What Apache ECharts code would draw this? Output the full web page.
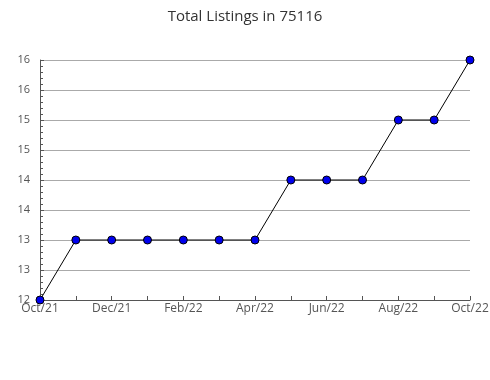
<!DOCTYPE html>
<html><head><meta charset="utf-8">
<script src="https://cdn.jsdelivr.net/npm/echarts@6/dist/echarts.min.js"></script>
<style>html,body{margin:0;padding:0;background:#fff}#c{width:490px;height:380px}</style>
</head><body><div id="c"></div>
<script>
const categories = ['Oct/21','Nov/21','Dec/21','Jan/22','Feb/22','Mar/22','Apr/22','May/22','Jun/22','Jul/22','Aug/22','Sep/22','Oct/22'];
const listings = [12,13,13,13,13,13,13,14,14,14,15,15,16];
const yTickLabels = ['12','13','13','14','14','15','15','16','16'];
const titleText = 'Total Listings in 75116';

const chart = echarts.init(document.getElementById('c'));
chart.setOption({
  animation: false,
  title: { text: titleText, left: 'center', top: 4,
    textStyle: { fontFamily: 'Open Sans', fontWeight: 'normal', fontSize: 15, color: '#333' } },
  grid: { left: 40, right: 20, top: 60, bottom: 80, containLabel: false, outerBoundsMode: 'none' },
  xAxis: {
    type: 'category', data: categories, boundaryGap: false,
    axisLine: { lineStyle: { color: '#555', width: 1 } },
    axisTick: { show: true, interval: 0, inside: true, length: 4, lineStyle: { color: '#555' } },
    axisLabel: { interval: 1, color: '#555', fontFamily: 'Open Sans', fontSize: 12, margin: 3 },
    splitLine: { show: false }
  },
  yAxis: {
    type: 'value', min: 12, max: 16, interval: 0.5,
    axisLine: { show: true, lineStyle: { color: '#555', width: 1 } },
    axisTick: { show: true, inside: true, length: 4, lineStyle: { color: '#555' } },
    minorTick: { show: true, splitNumber: 5, length: 3, lineStyle: { color: '#555' } },
    axisLabel: { color: '#555', fontFamily: 'Open Sans', fontSize: 11, margin: 10,
      formatter: v => yTickLabels[Math.round((v - 12) / 0.5)] },
    splitLine: { show: true, lineStyle: { color: '#aaa', width: 1 } }
  },
  series: [{
    type: 'line', data: listings,
    symbol: 'circle', symbolSize: 8,
    lineStyle: { color: '#000', width: 1 },
    itemStyle: { color: '#0000ee', borderColor: '#000', borderWidth: 1 }
  }]
});
</script></body></html>
